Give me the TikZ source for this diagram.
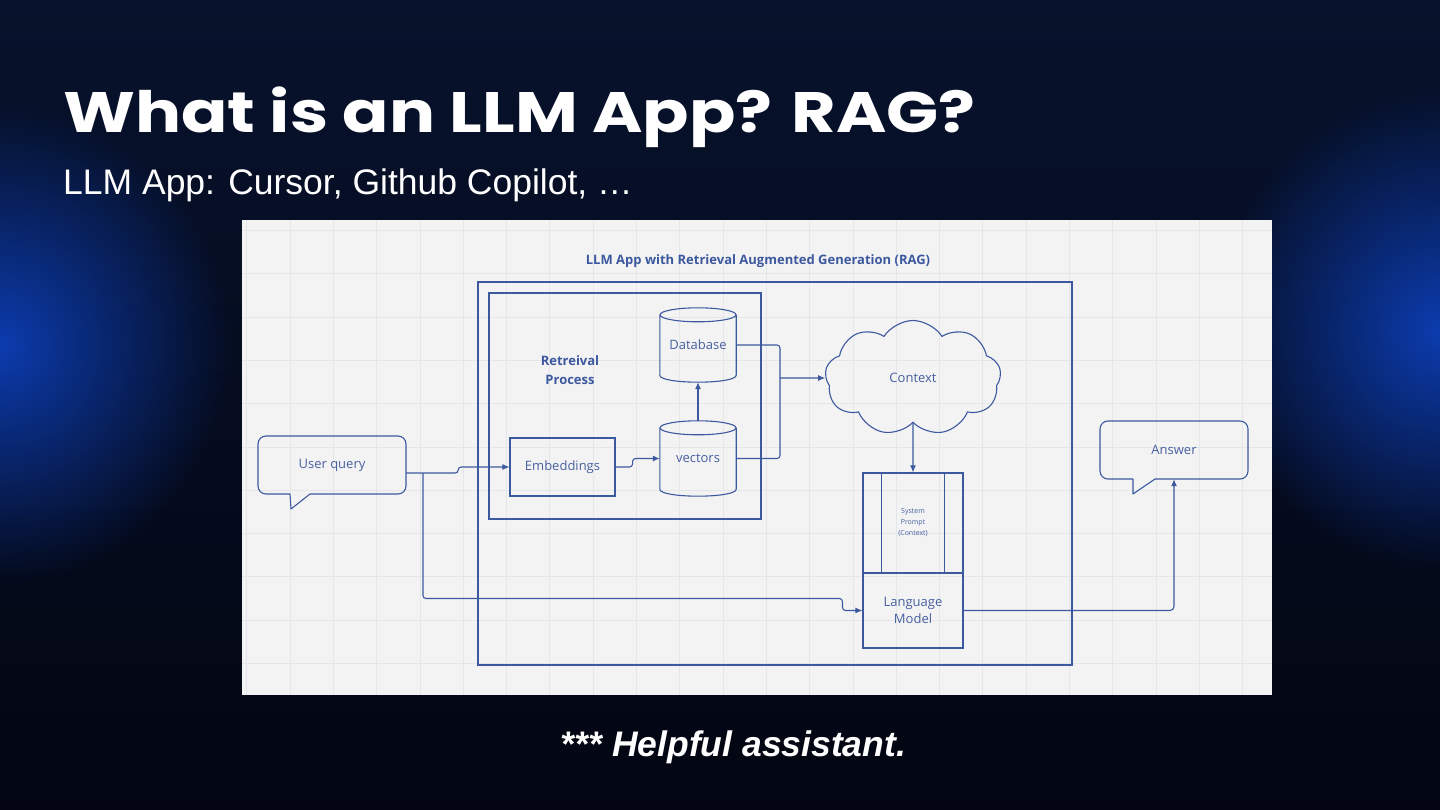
\documentclass[tikz,border=0pt]{standalone}
\usepackage{fontspec}
\usepackage{graphicx}
\setmainfont{Liberation Sans}
\newfontfamily\titlefont{Poppins}
\newfontfamily\diagfont{Open Sans}
\usetikzlibrary{shapes.symbols,arrows.meta,calc,fadings}
\definecolor{bgtop}{RGB}{7,18,44}
\definecolor{bgbot}{RGB}{3,6,18}
\definecolor{bgblue}{RGB}{12,60,175}
\definecolor{paper}{RGB}{243,243,244}
\definecolor{gridc}{RGB}{229,230,234}
\definecolor{diag}{RGB}{60,88,158}
\definecolor{diagtext}{RGB}{72,96,160}
\tikzfading[name=glowfade, inner color=transparent!0, outer color=transparent!100]
\newcommand\mycyl[1]{%
  \draw[dline] ($(#1.north)+(0,7)$) ellipse [x radius=38, y radius=7];
  \draw[dline] ($(#1.north west)+(0,7)$) -- ($(#1.south west)+(0,-7)$)
    .. controls ($(#1.south west)+(0,2.3)$) and ($(#1.south east)+(0,2.3)$) .. ($(#1.south east)+(0,-7)$)
    -- ($(#1.north east)+(0,7)$);}
\begin{document}
\begin{tikzpicture}[x=1pt,y=-1pt,
  dline/.style={draw=diag, line width=1.1pt},
  conn/.style={draw=diag, line width=1.1pt, rounded corners=3pt},
  arr/.style={conn, -{Latex[length=7pt,width=6pt]}},
  lbl/.style={font=\diagfont\fontsize{13}{17}\selectfont, text=diagtext, align=center},
  boxnode/.style={dline, rectangle, lbl, inner sep=0pt},
  plain/.style={rectangle, lbl, inner sep=0pt},
]
\useasboundingbox (0,0) rectangle (1440,810);
\shade[top color=bgtop, bottom color=bgbot] (0,0) rectangle (1440,810);
\begin{scope}
\clip (0,0) rectangle (1440,810);
\fill[bgblue, path fading=glowfade] (0,345) ellipse [x radius=230, y radius=240];
\fill[bgblue, path fading=glowfade] (1440,330) ellipse [x radius=230, y radius=240];
\end{scope}

% titles
\node[anchor=base west, inner sep=0, text=white, font=\titlefont\bfseries\fontsize{57}{60}\selectfont] (title) at (63,133) {\scalebox{1.2}[1]{What is an LLM App? RAG?}};
\node[anchor=base west, inner sep=0, text=white, font=\fontsize{35.5}{40}\selectfont] (sub) at (63,195) {LLM App: Cursor, Github Copilot, …};
\node[anchor=base, inner sep=0, text=white, font=\bfseries\itshape\fontsize{35.5}{40}\selectfont] (foot) at (733.5,756) {*** Helpful assistant.};

% diagram paper
\fill[paper] (242,220) rectangle (1272,695);
\foreach \k in {0,...,23} \draw[gridc, line width=0.8pt] ({246.7+43.3*\k},220) -- ++(0,475);
\foreach \k in {0,...,10} \draw[gridc, line width=0.8pt] (242,{230.4+43.3*\k}) -- ++(1030,0);

\node[anchor=base, inner sep=0, font=\diagfont\bfseries\fontsize{13}{16}\selectfont, text=diag] (dtitle) at (758,265) {LLM App with Retrieval Augmented Generation (RAG)};

\node[boxnode, minimum width=594, minimum height=383] (app) at (775,473.5) {};
\node[boxnode, minimum width=272, minimum height=226] (ret) at (625,406) {};
\node[plain, font=\diagfont\bfseries\fontsize{13}{19}\selectfont, text=diag] (retlbl) at (570,370) {Retreival\\Process};

\node[plain, minimum width=76, minimum height=74] (db) at (698,345) {Database};
\mycyl{db}
\node[plain, minimum width=76, minimum height=75] (vec) at (698,458.5) {vectors};
\mycyl{vec}
\node[boxnode, minimum width=105, minimum height=58] (emb) at (562.5,467) {Embeddings};

\node[plain, minimum width=148, minimum height=58] (uq) at (332,465) {User query};
\draw[dline, rounded corners=8] (290,494) -- (258,494) -- (258,436) -- (406,436) -- (406,494) -- (310,494);
\draw[dline, line join=round] (290,494) -- (291,509) -- (310,494);

\node[plain, minimum width=148, minimum height=58] (ans) at (1174,450) {Answer};
\draw[dline, rounded corners=8] (1133,479) -- (1100,479) -- (1100,421) -- (1248,421) -- (1248,479) -- (1155,479);
\draw[dline, line join=round] (1133,479) -- (1133,494) -- (1155,479);

\node[cloud, cloud puffs=9, cloud puff arc=115, aspect=1.5, minimum width=176, minimum height=115, inner sep=0, dline, lbl] (ctx) at (913,378) {Context};

\node[boxnode, minimum width=100, minimum height=100, font=\diagfont\fontsize{7}{11}\selectfont] (sp) at (913,523) {System\\Prompt\\(Context)};
\draw[dline] ($(sp.north west)+(19,0)$) -- ($(sp.south west)+(19,0)$);
\draw[dline] ($(sp.north east)+(-19,0)$) -- ($(sp.south east)+(-19,0)$);
\node[boxnode, minimum width=100, minimum height=75] (lm) at (913,610.5) {Language\\Model};

% connectors
\coordinate (uqout) at ($(uq.east)+(0,8)$);
\coordinate (br) at (423,473);
\coordinate (mrg) at (780,378);
\draw[arr] (uqout) -- ++(52,0) |- (emb.west);
\draw[arr] (br) |- ($(lm.west)+(-20,-12)$) |- (lm.west);
\draw[arr] (emb.east) -- ++(17,0) |- (vec.west);
\draw[arr] (vec.north) -- (db.south);
\draw[conn] (db.east) -| (mrg);
\draw[conn] (vec.east) -| (mrg);
\draw[arr] (mrg) -- (ctx.west);
\draw[arr] (ctx.south) -- (sp.north);
\draw[arr, rounded corners=4pt] (lm.east) -| (ans.south);
\end{tikzpicture}
\end{document}
